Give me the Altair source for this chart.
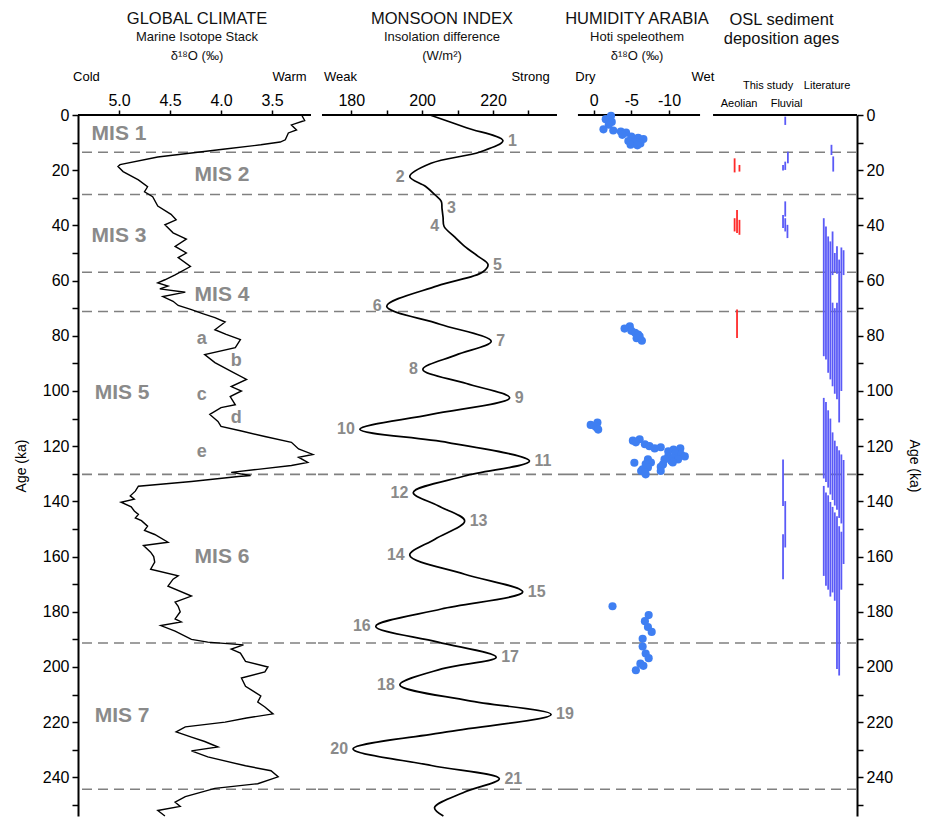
import altair as alt
import pandas as pd

FONT = "Liberation Sans"
GREY = "#8a8a8a"
DASH = "#808080"
BLUE_PT = "#3f7ff2"
RED = "#ff2a2a"
BLUE = "#5a5af7"

AGE_MAX = 254

# ---------------- data ----------------
mis_bounds = [13.5, 28.8, 57, 71.2, 130.2, 191.3, 244.3]

# LR04 marine isotope stack (age ka, d18O permil)
lr04_age = [0, 2, 3.6, 5.4, 6.5, 9, 9.8, 10.8, 12.3, 15.2, 18, 18.7, 20.5, 23.5, 26, 27.8,
            29.6, 33, 36, 38, 39.8, 42.7, 45, 47.6, 50, 51.7, 54.9, 57.9, 59.7, 60.8, 62,
            63, 64.2, 65.8, 67.5, 69, 70.5, 72, 73.4, 75, 77.8, 79.5, 81.4, 84.3, 86.8,
            89.7, 92.9, 95.8, 98.4, 100, 102, 105, 106, 108.5, 111, 112.8, 114.5, 116.5,
            118.6, 121, 123, 124, 125.9, 127, 128.4, 129.5, 130.6, 131, 132.8, 134.5,
            136.3, 138, 139.2, 140.3, 142, 143.5, 144.7, 146, 147, 149, 150.5, 152, 154.8,
            156, 158.4, 160, 162, 164.6, 167, 168.2, 170.7, 174.3, 176.5, 178, 180, 182.6,
            183.7, 185, 187, 190, 191, 192, 193.5, 195, 198, 200, 201.8, 204, 207, 210.5,
            212.7, 214.5, 217, 218.5, 220, 221.7, 223.5, 225.4, 227, 229, 230.4, 232.6,
            235.8, 237.6, 239.8, 242.3, 244, 247, 249, 250.5, 252, 254]
lr04_d18o = [3.21, 3.18, 3.31, 3.26, 3.34, 3.37, 3.42, 3.61, 3.96, 4.62, 4.99, 5.01, 4.96,
             4.81, 4.72, 4.75, 4.67, 4.62, 4.49, 4.44, 4.55, 4.47, 4.34, 4.45, 4.34, 4.42,
             4.30, 4.45, 4.55, 4.62, 4.52, 4.60, 4.35, 4.57, 4.47, 4.42, 4.29, 4.18, 4.06,
             3.96, 4.06, 3.95, 3.81, 3.86, 4.16, 4.06, 3.90, 3.75, 3.90, 3.80, 3.91, 3.86,
             4.00, 4.11, 4.03, 4.00, 3.80, 3.57, 3.31, 3.24, 3.10, 3.24, 3.15, 3.31, 3.64,
             3.90, 3.71, 3.83, 4.29, 4.81, 4.84, 4.89, 4.85, 4.98, 4.88, 4.85, 4.81, 4.84,
             4.78, 4.72, 4.75, 4.65, 4.52, 4.76, 4.69, 4.66, 4.65, 4.69, 4.42, 4.47, 4.52,
             4.29, 4.45, 4.42, 4.40, 4.45, 4.39, 4.59, 4.45, 4.29, 4.13, 3.78, 3.90, 3.81,
             3.76, 3.54, 3.57, 3.80, 3.76, 3.61, 3.64, 3.57, 3.49, 3.75, 3.96, 4.35, 4.44,
             4.29, 4.16, 4.03, 4.29, 4.13, 3.76, 3.51, 3.44, 3.64, 4.06, 4.35, 4.45, 4.40,
             4.62, 4.55]

mis_text = ["MIS 1", "MIS 2", "MIS 3", "MIS 4", "MIS 5", "MIS 6", "MIS 7"]
mis_age = [7.0, 21.7, 44.0, 65.1, 100.9, 160.3, 217.6]
mis_x = [5.0, 3.99, 5.0, 3.99, 4.97, 3.99, 4.97]

sub_text = ["a", "b", "c", "d", "e"]
sub_age = [81.1, 89.2, 101.6, 109.7, 122.1]
sub_x = [4.19, 3.85, 4.19, 3.85, 4.19]

# Monsoon index (insolation difference, W/m2)
mon_age = [0, 4.6, 9.3, 13.3, 17.5, 22.3, 25.9, 28.9, 31.3, 33.8, 37, 40.4, 44, 47.6, 51.2,
           54.2, 57, 61.9, 69.3, 75.8, 82, 87, 92.2, 97.3, 102.5, 108.5, 113.9, 118.7,
           125.4, 130.8, 136.8, 141.6, 147.1, 153.7, 159.5, 166.4, 172.8, 179, 185.3,
           191, 196.5, 200.7, 206.5, 212.2, 217.2, 223.6, 229.7, 235.7, 240.5, 245.3,
           251, 254]
mon_val = [202.2, 212.5, 222.8, 216.5, 202.5, 196.5, 201.0, 203.6, 205.4, 205.6, 205.9,
           206.2, 209.0, 212.0, 215.8, 218.6, 217.0, 204.3, 190.0, 205.0, 219.5, 209.5,
           200.2, 212.5, 224.7, 202.6, 182.4, 207.3, 230.3, 212.0, 197.5, 204.5, 212.0,
           203.6, 196.5, 212.0, 228.4, 205.4, 186.9, 204.5, 220.9, 205.5, 193.7, 213.0,
           236.4, 206.5, 180.5, 202.6, 221.8, 212.0, 203.5, 206.0]

mon_lab_num = [str(i) for i in range(1, 22)]
mon_lab_age = [9.3, 22.3, 33.8, 40.4, 54.2, 69.3, 82.0, 92.2, 102.5, 113.9, 125.4, 136.8,
               147.1, 159.5, 172.8, 185.3, 196.5, 206.5, 217.2, 229.7, 240.5]
mon_lab_val = [222.8, 196.5, 205.6, 206.2, 218.6, 190.0, 219.5, 200.2, 224.7, 182.4, 230.3,
               197.5, 212.0, 196.5, 228.4, 186.9, 220.9, 193.7, 236.4, 180.5, 221.8]
mon_lab_side = ["R", "L", "R", "L", "R", "L", "R", "L", "R", "L", "R",
                "L", "R", "L", "R", "L", "R", "L", "R", "L", "R"]

# Hoti speleothem d18O
hoti_age = [0.3, 1.5, 2.5, 3.5, 5.2, 5.6, 6.0, 6.4, 7.2, 7.8, 8.3, 8.7, 9.4, 9.8, 10.3, 10.8, 11.0,
            76.6, 77.4, 78.2, 78.9, 79.6, 80.2, 80.9, 81.8,
            111.4, 112.3, 112.6, 113.2, 114.0,
            117.5, 118.0, 118.6, 119.3, 120.0, 120.8, 120.4, 121.2, 120.8, 121.9, 122.5, 123.0,
            123.7, 123.7, 124.3, 124.8, 124.8, 125.4, 125.9, 126.6, 127.5, 129.0, 124.8,
            125.9, 126.5, 127.7, 128.4, 129.0, 129.5, 130.2, 126.0,
            178.0, 181.2, 183.4, 185.5, 187.3, 189.8, 192.6, 195.1, 196.8, 198.8, 201.2, 199.6]
hoti_d18o = [-2.3, -1.6, -2.4, -2.0, -1.3, -2.6, -3.6, -4.3, -3.8, -5.0, -5.9, -6.6, -4.6, -5.5,
             -6.2, -4.9, -5.8,
             -4.8, -4.1, -5.0, -5.5, -5.9, -6.1, -5.7, -6.4,
             -0.5, 0.4, -0.1, -0.4, -0.6,
             -6.1, -5.2, -5.6, -6.8, -7.4, -8.1, -8.9, -10.6, -11.5, -9.9, -10.9, -11.6,
             -12.1, -9.9, -10.6, -11.2, -9.4, -10.3, -10.5, -9.2, -8.9, -8.9, -7.2,
             -7.6, -6.9, -7.2, -6.5, -6.3, -6.8, -6.9, -5.4,
             -2.5, -7.3, -6.8, -7.2, -7.7, -6.5, -6.5, -6.9, -7.3, -6.2, -5.6, -6.6]

# OSL ages: source, column, age range
osl_src = (["Aeolian"] * 6 + ["Fluvial"] * 11 + ["Literature"] * 34)
osl_col = ([13, 15.2, 14.1, 13, 15.2, 14.1] +
           [36, 37.2, 36, 35, 36, 35, 36, 37, 35, 36, 35] +
           [57, 57.8,
            53.5, 54.5, 55.5, 56.5, 57.5, 57.5, 58.5, 58.5, 59.5, 59.5, 60.5, 61.5, 62.5,
            53.5, 54.5, 55.5, 56.5, 57.5, 58.5, 59.5, 60.5, 61.5, 62.5,
            53.5, 54.5, 55.5, 56.5, 57.5, 58.5, 59.5, 60.5, 61.5])
osl_start = ([15.7, 18.1, 34.4, 37.4, 38.0, 70.5] +
             [0.6, 13.3, 16.9, 18.1, 31.3, 36.2, 37.4, 39.8, 124.8, 139.9, 151.9] +
             [10.8, 15.0,
              37.4, 40.4, 44.0, 45.8, 42.2, 68.0, 50.0, 70.0, 47.6, 68.0, 52.4, 48.0, 49.0,
              102.5, 104.0, 107.0, 110.0, 115.0, 118.0, 120.0, 121.5, 123.0, 125.0,
              134.4, 136.8, 137.8, 140.2, 142.0, 144.0, 145.4, 149.0, 151.0])
osl_end = ([20.8, 20.5, 42.8, 42.2, 43.4, 80.8] +
           [3.6, 17.5, 19.9, 20.1, 36.8, 40.9, 42.2, 44.6, 141.7, 156.7, 168.2] +
           [14.5, 20.5,
            87.4, 88.6, 93.4, 95.8, 58.0, 98.3, 57.0, 101.0, 57.5, 103.0, 111.4, 100.0, 58.0,
            131.7, 133.0, 135.0, 137.5, 139.5, 141.5, 143.0, 146.0, 148.0, 162.7,
            167.0, 170.6, 172.0, 174.5, 173.0, 176.0, 200.7, 203.1, 172.0])

# ---------------- helpers ----------------
yscale = alt.Scale(domain=[0, AGE_MAX], reverse=True, nice=False, zero=False)


def y_axis(orient):
    return alt.Axis(orient=orient, values=list(range(0, 251, 10)),
                    labelExpr="datum.value % 20 == 0 ? datum.label : ''",
                    title="Age (ka)", titleFont=FONT, titleFontSize=14,
                    titleFontWeight="normal", titleColor="black", titlePadding=14,
                    labelFont=FONT, labelFontSize=16, labelColor="black", labelPadding=3,
                    tickSize=6, tickWidth=1.5, tickColor="black",
                    domainColor="black", domainWidth=2, grid=False)


def make_panel(xscale, xaxis, yax, width, title, layers_spec):
    def X(field):
        return alt.X(field, type="quantitative", scale=xscale, axis=xaxis)

    def Y(field):
        return alt.Y(field, type="quantitative", scale=yscale, axis=yax)

    layers = []
    # dashed MIS boundaries
    layers.append(alt.Chart(pd.DataFrame({"age": mis_bounds})).mark_rule(
        color=DASH, strokeDash=[10, 6], strokeWidth=1.6).encode(y=Y("age")))
    for fn in layers_spec:
        layers.append(fn(X, Y))
    return alt.layer(*layers).properties(width=width, height=701, title=title)


def top_line(x0, x1):
    def fn(X, Y):
        return alt.Chart(pd.DataFrame({"x": [x0], "x2": [x1], "age": [0]})).mark_rule(
            color="black", strokeWidth=2).encode(x=X("x"), x2="x2:Q", y=Y("age"))
    return fn


def texts(words, xs, ages, size, color="black", weight="normal", dx=0, align="center"):
    def fn(X, Y):
        return alt.Chart(pd.DataFrame({"t": words, "x": xs, "age": ages})).mark_text(
            font=FONT, fontSize=size, color=color, fontWeight=weight, dx=dx,
            align=align, baseline="middle").encode(x=X("x"), y=Y("age"), text="t:N")
    return fn


def title(text, sub=None):
    kw = dict(text=text, font=FONT, fontSize=16.5, fontWeight="normal", color="#111",
              anchor="middle", frame="group", lineHeight=19)
    if sub:
        kw.update(subtitle=sub, subtitleFont=FONT, subtitleFontSize=13,
                  subtitleColor="#111", subtitleLineHeight=19, subtitlePadding=3, offset=8)
    else:
        kw.update(offset=33)
    return alt.TitleParams(**kw)


def top_axis(values, label_expr=None, fmt=None):
    kw = dict(orient="top", values=values, tickSize=5, tickWidth=1.5, tickColor="black",
              domain=False, labelFont=FONT, labelFontSize=16, labelColor="black",
              labelPadding=2, title=None, grid=False)
    if label_expr:
        kw["labelExpr"] = label_expr
    if fmt:
        kw["format"] = fmt
    return alt.Axis(**kw)


# ---------------- panel 1: global climate ----------------
xs1 = alt.Scale(domain=[5.402, 3.069], nice=False, zero=False)
ax1 = top_axis([5.0, 4.5, 4.0, 3.5], fmt=".1f")


def lr04_line(X, Y):
    return alt.Chart(pd.DataFrame({"x": lr04_d18o, "age": lr04_age})).mark_line(
        color="black", strokeWidth=1.4).encode(x=X("x"), y=Y("age"), order="age:Q")


p1 = make_panel(xs1, ax1, y_axis("left"), 238,
                title("GLOBAL CLIMATE", ["Marine Isotope Stack", "δ¹⁸O (‰)"]),
                [top_line(5.402, 3.118), lr04_line,
                 texts(mis_text, mis_x, mis_age, 21, GREY, "bold"),
                 texts(sub_text, sub_x, sub_age, 18, GREY, "bold"),
                 texts(["Cold", "Warm"], [5.319, 3.328], [-13.8, -13.8], 13)])

# ---------------- panel 2: monsoon index ----------------
xs2 = alt.Scale(domain=[170.04, 241.17], nice=False, zero=False)
ax2 = top_axis([180, 190, 200, 210, 220, 230],
               label_expr="datum.value % 20 == 0 ? datum.label : ''")


def mon_line(X, Y):
    return alt.Chart(pd.DataFrame({"x": mon_val, "age": mon_age})).mark_line(
        color="black", strokeWidth=1.7, interpolate="catmull-rom").encode(
        x=X("x"), y=Y("age"), order="age:Q")


lab = pd.DataFrame({"t": mon_lab_num, "x": mon_lab_val, "age": mon_lab_age,
                    "side": mon_lab_side})


def mon_labels(side, dx, align):
    def fn(X, Y):
        return alt.Chart(lab).transform_filter(alt.datum.side == side).mark_text(
            font=FONT, fontSize=16, fontWeight="bold", color=GREY, dx=dx, align=align,
            baseline="middle").encode(x=X("x"), y=Y("age"), text="t:N")
    return fn


p2 = make_panel(xs2, ax2, None, 252,
                title("MONSOON INDEX", ["Insolation difference", "(W/m²)"]),
                [top_line(171.73, 238.06), mon_line,
                 mon_labels("R", 5, "left"), mon_labels("L", -5, "right"),
                 texts(["Weak", "Strong"], [176.95, 230.6], [-13.8, -13.8], 13)])

# ---------------- panel 3: Hoti speleothem ----------------
xs3 = alt.Scale(domain=[3.41, -14.91], nice=False, zero=False)
ax3 = top_axis([0, -5, -10], label_expr="'' + datum.value")


def hoti_pts(X, Y):
    return alt.Chart(pd.DataFrame({"x": hoti_d18o, "age": hoti_age})).mark_circle(
        color=BLUE_PT, opacity=1, size=66).encode(x=X("x"), y=Y("age"))


p3 = make_panel(xs3, ax3, None, 138,
                title("HUMIDITY ARABIA", ["Hoti speleothem", "δ¹⁸O (‰)"]),
                [top_line(2.09, -14.12), hoti_pts,
                 texts(["Dry", "Wet"], [1.09, -14.5], [-13.8, -13.8], 13)])

# ---------------- panel 4: OSL ages ----------------
xs4 = alt.Scale(domain=[0, 68.6], nice=False, zero=False)


def osl_bars(X, Y):
    return alt.Chart(pd.DataFrame({"src": osl_src, "x": osl_col, "age": osl_start,
                                   "age2": osl_end})).mark_rule(strokeWidth=1.8).encode(
        x=X("x"), y=Y("age"), y2="age2:Q",
        color=alt.Color("src:N", legend=None,
                        scale=alt.Scale(domain=["Aeolian", "Fluvial", "Literature"],
                                        range=[RED, BLUE, BLUE])))


p4 = make_panel(xs4, None, y_axis("right"), 151,
                title(["OSL sediment", "deposition ages"]),
                [top_line(3.2, 68.6), osl_bars,
                 texts(["This study", "Literature"], [28.2, 55.0], [-10.5, -10.5], 11),
                 texts(["Aeolian", "Fluvial"], [15.0, 36.6], [-4.0, -4.0], 11)])

chart = alt.hconcat(p1, p2, p3, p4, spacing=0, bounds="flush").resolve_scale(
    x="independent").properties(
    padding={"left": 14, "top": 11, "right": 5, "bottom": 0}
).configure_view(stroke=None)

chart.save("out.html", embed_options={"renderer": "svg", "actions": False})
